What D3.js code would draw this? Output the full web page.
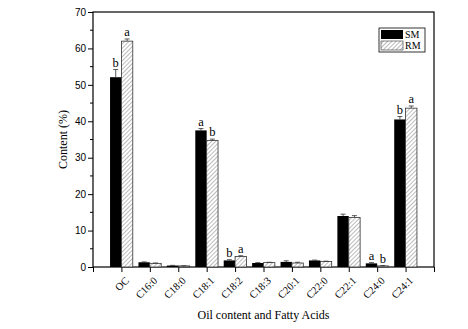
<!DOCTYPE html>
<html>
<head>
<meta charset="utf-8">
<script src="https://cdn.jsdelivr.net/npm/d3@7"></script>
<style>
  body { margin: 0; background: #fff; }
  svg { display: block; }
</style>
</head>
<body>
<svg id="chart"></svg>
<script>
// Data
const categories = ["OC", "C16:0", "C18:0", "C18:1", "C18:2", "C18:3", "C20:1", "C22:0", "C22:1", "C24:0", "C24:1"];
const smValues = [52.1, 1.3, 0.4, 37.5, 1.8, 1.1, 1.4, 1.8, 14.0, 1.0, 40.5];
const rmValues = [62.0, 1.0, 0.3, 34.7, 2.9, 1.2, 1.1, 1.5, 13.6, 0.3, 43.6];
const smErrors = [2.1, 0.1, 0.05, 0.5, 0.2, 0.1, 0.3, 0.1, 0.5, 0.2, 0.8];
const rmErrors = [0.6, 0.1, 0.05, 0.4, 0.2, 0.1, 0.2, 0.1, 0.5, 0.1, 0.6];
const smLetters = ["b", "", "", "a", "b", "", "", "", "", "a", "b"];
const rmLetters = ["a", "", "", "b", "a", "", "", "", "", "b", "a"];
const yTicks = [0, 10, 20, 30, 40, 50, 60, 70];

const W = 468, H = 329;
const plot = { left: 93, right: 434, top: 12, bottom: 267 };
const serif = "Liberation Serif, Times New Roman, serif";

const svg = d3.select("#chart").attr("width", W).attr("height", H);

// Hatch pattern for RM bars
const defs = svg.append("defs");
defs.append("pattern")
  .attr("id", "hatch")
  .attr("patternUnits", "userSpaceOnUse")
  .attr("width", 3)
  .attr("height", 3)
  .attr("patternTransform", "rotate(45)")
  .call(p => {
    p.append("rect").attr("width", 3).attr("height", 3).attr("fill", "#fff");
    p.append("line").attr("x1", 0).attr("y1", 0).attr("x2", 0).attr("y2", 3)
      .attr("stroke", "#777").attr("stroke-width", 1);
  });

// Scales: categories sit at integer positions, axis runs from -1 to 11
const x = d3.scaleLinear().domain([-1, categories.length]).range([plot.left, plot.right]);
const y = d3.scaleLinear().domain([0, 70]).range([plot.bottom, plot.top]);
const barW = x(0.4) - x(0);

// Frame
svg.append("rect")
  .attr("x", plot.left).attr("y", plot.top)
  .attr("width", plot.right - plot.left).attr("height", plot.bottom - plot.top)
  .attr("fill", "none").attr("stroke", "#000").attr("stroke-width", 1.2);

// Y axis
const yAxis = svg.append("g")
  .attr("transform", `translate(${plot.left},0)`)
  .call(d3.axisLeft(y).tickValues(yTicks).tickSize(5).tickPadding(2));
yAxis.select(".domain").remove();
yAxis.selectAll("text")
  .style("font-family", "Liberation Sans, Arial, sans-serif")
  .style("font-size", "10px")
  .attr("fill", "#000");

// minor y ticks
svg.append("g").selectAll("line")
  .data(d3.range(5, 70, 10))
  .join("line")
  .attr("x1", plot.left - 3).attr("x2", plot.left)
  .attr("y1", d => y(d)).attr("y2", d => y(d))
  .attr("stroke", "#000");

// X axis
const xAxis = svg.append("g")
  .attr("transform", `translate(0,${plot.bottom})`)
  .call(d3.axisBottom(x).tickValues(d3.range(-1, categories.length + 1)).tickSize(5).tickFormat(""));
xAxis.select(".domain").remove();

svg.append("g").selectAll("text")
  .data(categories)
  .join("text")
  .attr("transform", (d, i) => `translate(${x(i) + 3},${plot.bottom + 9}) rotate(-45)`)
  .attr("text-anchor", "end")
  .attr("dy", "0.7em")
  .attr("fill", "#000")
  .style("font-family", serif)
  .style("font-size", "10.5px")
  .text(d => d);

// Bars
const rows = categories.map((c, i) => ({
  i, sm: smValues[i], rm: rmValues[i], smE: smErrors[i], rmE: rmErrors[i],
  smL: smLetters[i], rmL: rmLetters[i]
}));

svg.append("g").selectAll("rect")
  .data(rows)
  .join("rect")
  .attr("x", d => x(d.i) - barW)
  .attr("y", d => y(d.sm))
  .attr("width", barW)
  .attr("height", d => y(0) - y(d.sm))
  .attr("fill", "#000");

svg.append("g").selectAll("rect")
  .data(rows)
  .join("rect")
  .attr("x", d => x(d.i))
  .attr("y", d => y(d.rm))
  .attr("width", barW)
  .attr("height", d => y(0) - y(d.rm))
  .attr("fill", "url(#hatch)")
  .attr("stroke", "#333")
  .attr("stroke-width", 0.8);

// Error bars (upper half)
function errorBars(key, errKey, offset) {
  const g = svg.append("g").attr("stroke", "#333").attr("stroke-width", 0.8);
  g.selectAll(".v").data(rows).join("line")
    .attr("x1", d => x(d.i) + offset).attr("x2", d => x(d.i) + offset)
    .attr("y1", d => y(d[key])).attr("y2", d => y(d[key] + d[errKey]));
  g.selectAll(".c").data(rows).join("line")
    .attr("x1", d => x(d.i) + offset - 2.5).attr("x2", d => x(d.i) + offset + 2.5)
    .attr("y1", d => y(d[key] + d[errKey])).attr("y2", d => y(d[key] + d[errKey]));
}
errorBars("sm", "smE", -barW / 2);
errorBars("rm", "rmE", barW / 2);

// Significance letters
svg.append("g").selectAll("text")
  .data(rows.filter(d => d.smL))
  .join("text")
  .attr("x", d => x(d.i) - barW / 2)
  .attr("y", d => y(d.sm + d.smE) - 3)
  .attr("text-anchor", "middle")
  .attr("fill", "#000")
  .style("font-family", serif).style("font-size", "12.5px")
  .text(d => d.smL);
svg.append("g").selectAll("text")
  .data(rows.filter(d => d.rmL))
  .join("text")
  .attr("x", d => x(d.i) + barW / 2)
  .attr("y", d => y(d.rm + d.rmE) - 3)
  .attr("text-anchor", "middle")
  .attr("fill", "#000")
  .style("font-family", serif).style("font-size", "12.5px")
  .text(d => d.rmL);

// Legend
const legend = svg.append("g").attr("transform", "translate(379,28)");
legend.append("rect").attr("width", 46).attr("height", 24)
  .attr("fill", "#fff").attr("stroke", "#000").attr("stroke-width", 0.8);
legend.append("rect").attr("x", 2).attr("y", 2).attr("width", 22).attr("height", 9).attr("fill", "#000");
legend.append("rect").attr("x", 2).attr("y", 13).attr("width", 22).attr("height", 9)
  .attr("fill", "url(#hatch)").attr("stroke", "#333").attr("stroke-width", 0.6);
legend.append("text").attr("x", 26).attr("y", 10).text("SM").attr("fill", "#000")
  .style("font-family", serif).style("font-size", "10px");
legend.append("text").attr("x", 26).attr("y", 21).text("RM").attr("fill", "#000")
  .style("font-family", serif).style("font-size", "10px");

// Axis titles
svg.append("text")
  .attr("transform", `translate(67,${(plot.top + plot.bottom) / 2}) rotate(-90)`)
  .attr("text-anchor", "middle")
  .attr("fill", "#000")
  .style("font-family", serif).style("font-size", "12px")
  .text("Content (%)");

svg.append("text")
  .attr("x", (plot.left + plot.right) / 2)
  .attr("y", 319)
  .attr("text-anchor", "middle")
  .attr("fill", "#000")
  .style("font-family", serif).style("font-size", "12px")
  .text("Oil content and Fatty Acids");
</script>
</body>
</html>
